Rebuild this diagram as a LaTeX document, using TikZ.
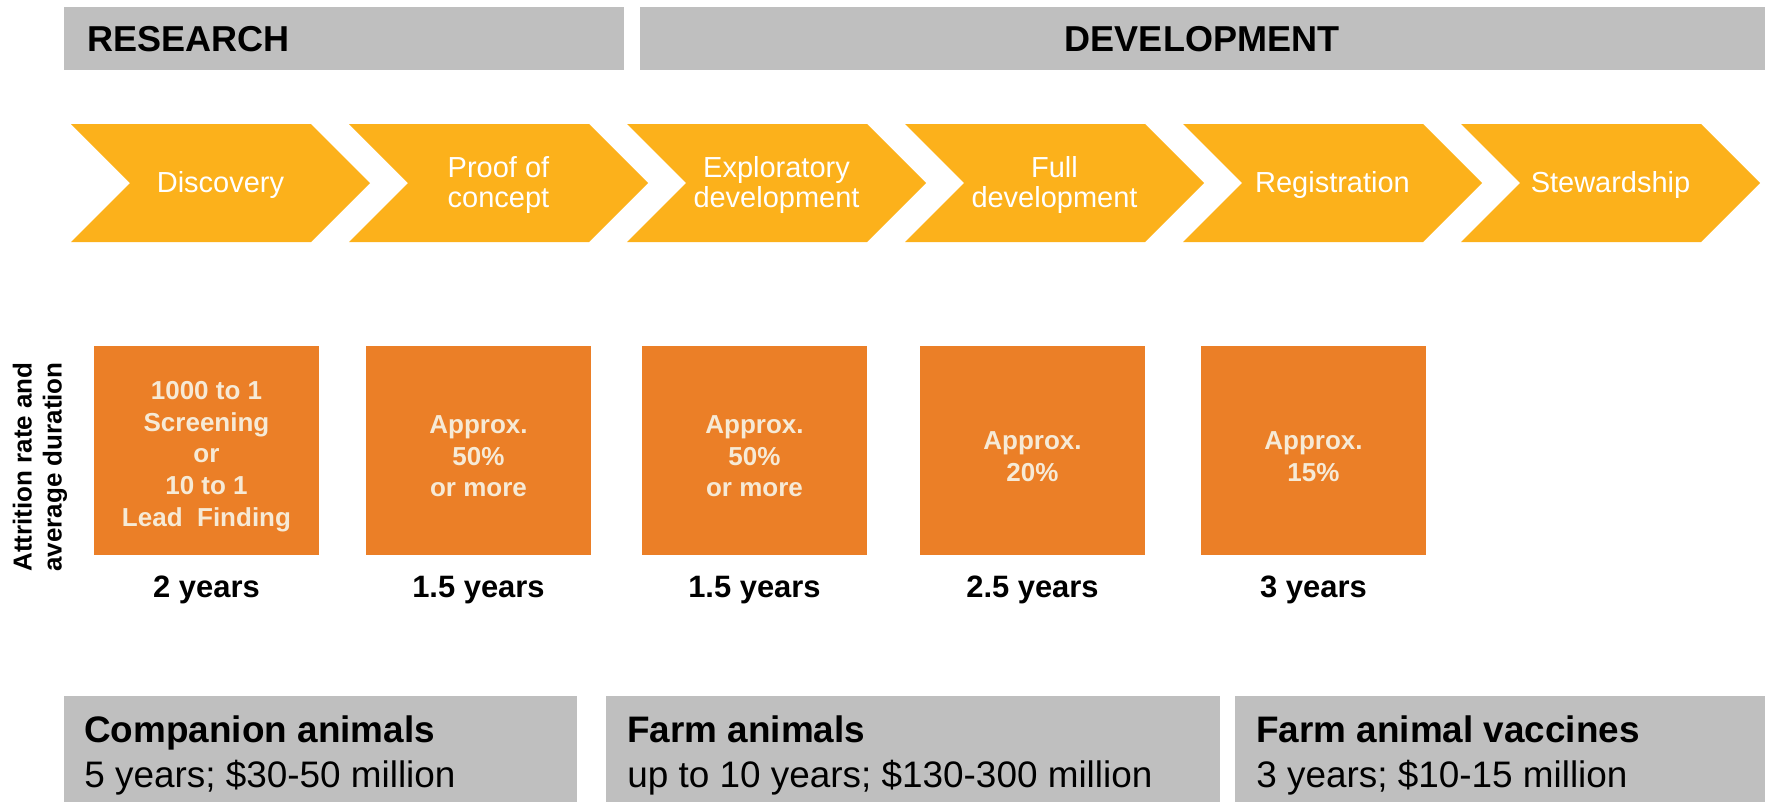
\documentclass[tikz,border=0pt]{standalone}
\usepackage{fontspec}
\setmainfont{Liberation Sans}
\usepackage{tikz}
\usetikzlibrary{positioning}
\definecolor{headgray}{HTML}{BFBFBF}
\definecolor{chevyellow}{HTML}{FCB11B}
\definecolor{boxorange}{HTML}{EB7F27}
\definecolor{boxtext}{HTML}{F6EAD6}
\tikzstyle{bar}=[fill=headgray]
\tikzstyle{chevron}=[fill=chevyellow]
\tikzstyle{headtxt}=[font=\bfseries\fontsize{20.5}{24}\selectfont, inner sep=0]
\tikzstyle{phase}=[text=white, align=center, inner sep=0, font=\fontsize{16.5}{17.5}\selectfont]
\tikzstyle{rate}=[fill=boxorange, minimum width=4.5cm, minimum height=4.18cm, inner sep=0]
\tikzstyle{ratetxt}=[text=boxtext, align=center, inner sep=0, font=\bfseries\fontsize{14.8}{18}\selectfont]
\tikzstyle{years}=[font=\bfseries\fontsize{17.6}{20}\selectfont, inner sep=0]
\tikzstyle{market}=[align=left, anchor=west, inner sep=0, font=\fontsize{21}{25.6}\selectfont]

\begin{document}
\begin{tikzpicture}[x=0.02cm, y=-0.02cm]
\useasboundingbox (0,0) rectangle (1765,802);
% header bars
\fill[bar] (64,7) rectangle (624,70);
\fill[bar] (640,7) rectangle (1765,70);
\node[headtxt, anchor=west] (research) at (87,39) {RESEARCH};
\node[headtxt] (development) at (1202,39) {DEVELOPMENT};
% phases
\fill[chevron] (71,124) -- ++(240,0) -- ++(59,59) -- ++(-59,59) -- ++(-240,0) -- ++(59,-59) -- cycle;
\fill[chevron] (349,124) -- ++(240,0) -- ++(59,59) -- ++(-59,59) -- ++(-240,0) -- ++(59,-59) -- cycle;
\fill[chevron] (627,124) -- ++(240,0) -- ++(59,59) -- ++(-59,59) -- ++(-240,0) -- ++(59,-59) -- cycle;
\fill[chevron] (905,124) -- ++(240,0) -- ++(59,59) -- ++(-59,59) -- ++(-240,0) -- ++(59,-59) -- cycle;
\fill[chevron] (1183,124) -- ++(240,0) -- ++(59,59) -- ++(-59,59) -- ++(-240,0) -- ++(59,-59) -- cycle;
\fill[chevron] (1461,124) -- ++(240,0) -- ++(59,59) -- ++(-59,59) -- ++(-240,0) -- ++(59,-59) -- cycle;
\node[phase] (discovery) at (220.5,185) {Discovery};
\node[phase] (proof) at (498.5,185) {Proof of\\concept};
\node[phase] (explor) at (776.5,185) {Exploratory\\development};
\node[phase] (fulldev) at (1054.5,185) {Full\\development};
\node[phase] (registr) at (1332.5,185) {Registration};
\node[phase] (steward) at (1610.5,185) {Stewardship};
% attrition and duration
\node[rotate=90, align=center, inner sep=0, font=\bfseries\fontsize{14.8}{17}\selectfont] (attrlbl) at (40,467) {Attrition rate and\\average duration};
\node[rate] (rate1) at (206.5,450.5) {};
\node[rate] (rate2) at (478.5,450.5) {};
\node[rate] (rate3) at (754.5,450.5) {};
\node[rate] (rate4) at (1032.5,450.5) {};
\node[rate] (rate5) at (1313.5,450.5) {};
\node[ratetxt] (rate1txt) at ([yshift=-0.12cm]rate1.center) {1000 to 1\\Screening\\or\\10 to 1\\Lead\ \ Finding};
\node[ratetxt] (rate2txt) at ([yshift=-0.12cm]rate2.center) {Approx.\\50\%\\or more};
\node[ratetxt] (rate3txt) at ([yshift=-0.12cm]rate3.center) {Approx.\\50\%\\or more};
\node[ratetxt] (rate4txt) at ([yshift=-0.12cm]rate4.center) {Approx.\\20\%};
\node[ratetxt] (rate5txt) at ([yshift=-0.12cm]rate5.center) {Approx.\\15\%};
\node[years] (yrs1) at ([yshift=-0.7cm]rate1.south) {2 years};
\node[years] (yrs2) at ([yshift=-0.7cm]rate2.south) {1.5 years};
\node[years] (yrs3) at ([yshift=-0.7cm]rate3.south) {1.5 years};
\node[years] (yrs4) at ([yshift=-0.7cm]rate4.south) {2.5 years};
\node[years] (yrs5) at ([yshift=-0.7cm]rate5.south) {3 years};
% cost per market
\fill[bar] (64,696) rectangle (577,802);
\fill[bar] (606,696) rectangle (1220,802);
\fill[bar] (1235,696) rectangle (1765,802);
\node[market] (companion) at (84,755.5) {{\bfseries Companion animals}\\5 years; \$30-50 million};
\node[market] (farm) at (627,755.5) {{\bfseries Farm animals}\\up to 10 years; \$130-300 million};
\node[market] (vaccines) at (1256,755.5) {{\bfseries Farm animal vaccines}\\3 years; \$10-15 million};
\end{tikzpicture}
\end{document}
